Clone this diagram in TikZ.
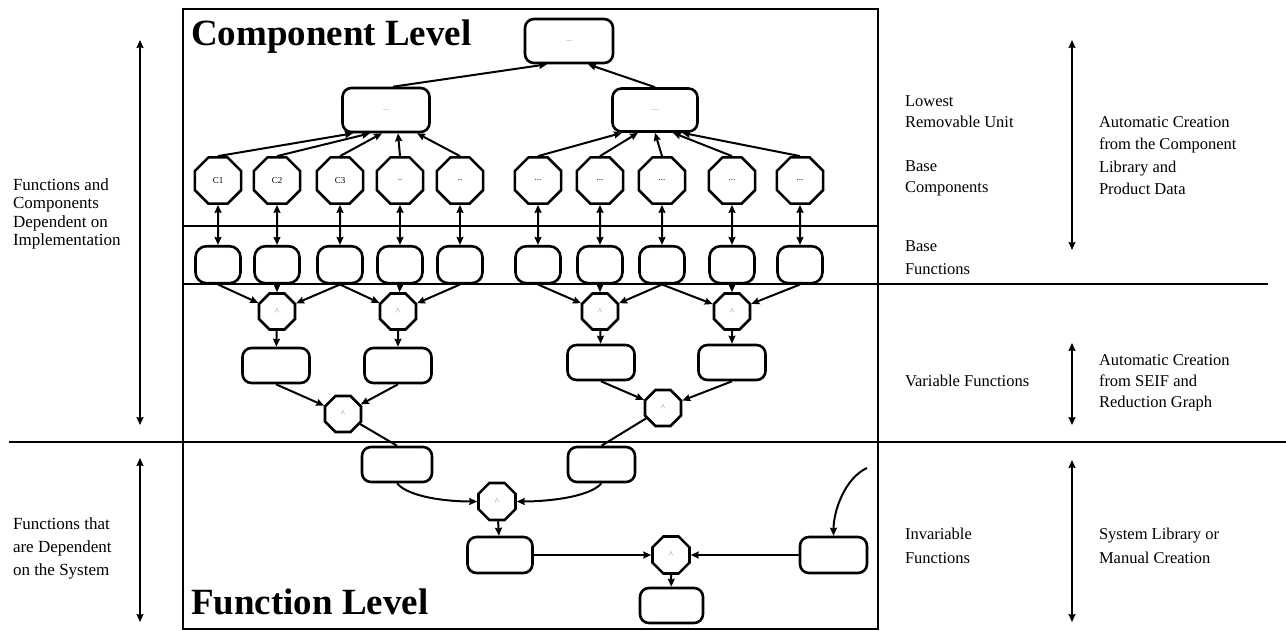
\documentclass[tikz,border=0pt]{standalone}
\usepackage{fontspec}
\setmainfont{Liberation Serif}
\usetikzlibrary{arrows.meta,positioning,shapes.geometric}
\newcommand{\twodots}{..}
\newcommand{\threedots}{...}

\begin{document}
\begin{tikzpicture}[x=1pt,y=-1pt,>={Stealth[length=8pt,width=7pt,inset=1pt]},line width=2pt,node distance=40pt,
      box/.style={rectangle,rounded corners=9pt,draw,line width=2.6pt,
                  inner sep=0pt,minimum width=67pt,minimum height=35pt},
      hub/.style={box,font=\fontsize{8}{8}\selectfont\color{gray}},
      comp/.style={regular polygon,regular polygon sides=8,draw,line width=2.6pt,
                   inner sep=0pt,minimum size=50pt,font=\fontsize{9}{9}\selectfont},
      base/.style={box,rounded corners=11pt,minimum width=45pt,minimum height=37pt},
      gate/.style={regular polygon,regular polygon sides=8,draw,line width=2.6pt,
                   inner sep=0pt,minimum size=39pt,font=\fontsize{9}{9}\selectfont\color{gray}},
      side/.style={align=left,anchor=west,inner sep=0pt,font=\fontsize{16.5}{21}\selectfont},
      level/.style={anchor=base west,inner sep=0pt,font=\fontsize{37}{40}\selectfont\bfseries}]
    \useasboundingbox (0,0) rectangle (1286,630);

    % frame and level lines
    \draw (183,9) rectangle (878,629);
    \draw (183,226) -- (878,226);
    \draw (183,284) -- (1268,284);
    \draw (9,441.5) -- (1286,441.5);
    \node[level] (cl) at (190,45) {Component Level};
    \node[level] (fl) at (190,614) {Function Level};

    % component level
    \node[hub,minimum width=88pt,minimum height=44pt] (top) at (569,41) {\threedots};
    \node[hub,minimum width=87pt,minimum height=44pt] (l1) at (386,110) {\threedots};
    \node[hub,minimum width=85pt,minimum height=43pt] (l2) at (655,110) {\threedots.};
    \foreach \n/\x/\t in {1/218/C1,2/277/C2,3/340/C3,4/400/\twodots,5/460/\twodots,
                          6/538/\threedots,7/600/\threedots,8/662/\threedots,
                          9/732/\threedots,10/800/\threedots}
        \node[comp] (c\n) at (\x,180.5) {\t};
    \foreach \n in {1,...,10}
        \node[base] (b\n) [below=of c\n] {};

    % variable functions
    \foreach \n/\x/\y in {1/277/311.5,2/398/311.5,3/343/414,4/600/311.5,5/732/311.5,6/663/408}
        \node[gate] (a\n) at (\x,\y) {\textasciicircum};
    \node[box] (v1) at (276,365.5) {};
    \node[box] (v2) at (398,365.5) {};
    \node[box] (v3) at (601,362.5) {};
    \node[box] (v4) at (732,362.5) {};

    % invariable functions
    \node[box,minimum width=70pt] (i1) at (397,464.5) {};
    \node[box] (i2) at (601.5,464.5) {};
    \node[gate,minimum size=40pt] (a7) at (497,501.5) {\textasciicircum};
    \node[box,minimum width=65pt,minimum height=36pt] (i3) at (500,555) {};
    \node[gate,minimum size=40pt] (a8) at (671,555) {\textasciicircum};
    \node[box,minimum height=36pt] (i4) at (833.5,555) {};
    \node[box,minimum width=63pt] (i5) at (671.5,605.5) {};
    \coordinate (s) at (867,468);

    % connectors
    \foreach \n/\d in {1/-33,2/-16,3/-4,4/12,5/31}
        \draw[->] (c\n.north) -- ([xshift=\d pt]l1.south);
    \foreach \n/\d in {6/-33,7/-17,8/0,9/18,10/27}
        \draw[->] (c\n.north) -- ([xshift=\d pt]l2.south);
    \draw[->] ([xshift=7pt]l1.north) -- ([xshift=-22pt]top.south);
    \draw[->] (l2.north) -- ([xshift=19pt]top.south);
    \foreach \n in {1,...,10}
        \draw[<->] (c\n) -- (b\n);
    \foreach \s/\t in {1/1,2/1,3/1,3/2,4/2,5/2,6/4,7/4,8/4,8/5,9/5,10/5}
        \draw[->] (b\s.south) -- (a\t);
    \foreach \s/\t in {1/1,2/2,4/3,5/4}
        \draw[->] (a\s) -- (v\t);
    \draw[->] (v1.south) -- (a3);
    \draw[->] (v2.south) -- (a3);
    \draw[->] (v3.south) -- (a6);
    \draw[->] (v4.south) -- (a6);
    \draw (a3) -- (i1.north);
    \draw (a6) -- (i2.north);
    \draw[->] (i1.south) .. controls +(12,14) and +(-30,0) .. (a7.west);
    \draw[->] (i2.south) .. controls +(-12,14) and +(30,0) .. (a7.east);
    \draw[->] (a7) -- (i3);
    \draw[->,line width=1.6pt] (i3) -- (a8);
    \draw[->,line width=1.6pt] (i4) -- (a8);
    \draw[->] (a8) -- (i5);
    \draw[->] (s) .. controls +(-22,10) and +(0,-25) .. (i4.north);

    % side arrows and notes
    \draw[<->] (140,40) -- (140,425);
    \draw[<->] (140,458) -- (140,622);
    \draw[<->] (1072,40) -- (1072,250);
    \draw[<->] (1072,343) -- (1072,425);
    \draw[<->] (1072,460) -- (1072,622);
    \node[side,font=\fontsize{17}{18.5}\selectfont] (t1) at (12,214)
        {Functions and\\Components\\Dependent on\\Implementation};
    \node[side,font=\fontsize{17}{23}\selectfont] (t2) at (12,548)
        {Functions that\\are Dependent\\on the System};
    \node[side] (t3) at (904,111.5) {Lowest\\Removable Unit};
    \node[side] (t4) at (904,178.5) {Base\\Components};
    \node[side,font=\fontsize{16.5}{23}\selectfont] (t5) at (904,257.5) {Base\\Functions};
    \node[side] (t6) at (904,381) {Variable Functions};
    \node[side,font=\fontsize{16.5}{24}\selectfont] (t7) at (904,546) {Invariable\\Functions};
    \node[side,font=\fontsize{16.5}{22.3}\selectfont] (t8) at (1098,155.5)
        {Automatic Creation\\from the Component\\Library and\\Product Data};
    \node[side] (t9) at (1098,383) {Automatic Creation\\from SEIF and\\Reduction Graph};
    \node[side,font=\fontsize{16.5}{24}\selectfont] (t10) at (1098,546)
        {System Library or\\Manual Creation};
\end{tikzpicture}
\end{document}
